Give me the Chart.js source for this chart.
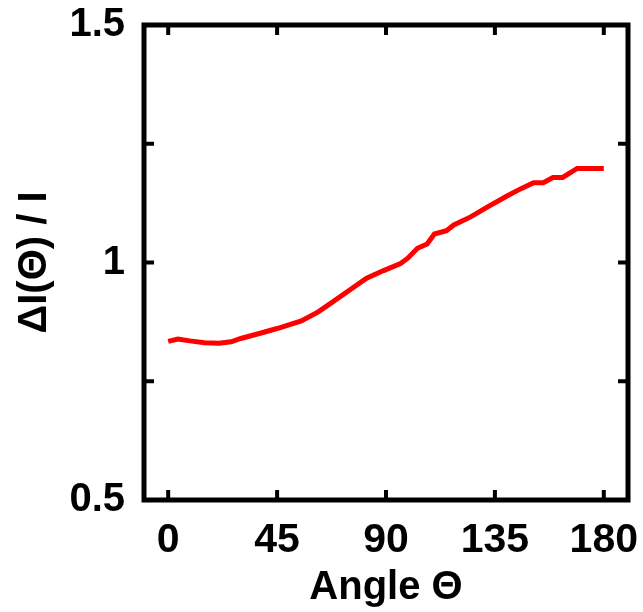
<!DOCTYPE html>
<html>
<head>
<meta charset="utf-8">
<script src="https://cdn.jsdelivr.net/npm/chart.js@4.4.1/dist/chart.umd.min.js"></script>
<style>
  html, body { margin: 0; padding: 0; background: #ffffff; }
  canvas { display: block; }
</style>
</head>
<body>
<canvas id="chart" width="643" height="612"></canvas>
<script>
// Relative intensity change versus scattering angle
const angles = [0, 4, 9, 15, 21, 26, 30, 38, 45, 55, 62, 68, 75, 82, 89, 96, 99, 103, 107, 110, 115, 118, 125, 132, 140, 146, 151, 155, 159, 163, 169, 180];
const ratio  = [0.834, 0.839, 0.835, 0.831, 0.830, 0.833, 0.840, 0.851, 0.861, 0.877, 0.896, 0.917, 0.942, 0.967, 0.983, 0.998, 1.009, 1.030, 1.039, 1.060, 1.067, 1.079, 1.096, 1.117, 1.140, 1.156, 1.168, 1.168, 1.179, 1.179, 1.198, 1.198];

const xTicks = [0, 45, 90, 135, 180];
const yTicks = [0.5, 0.75, 1, 1.25, 1.5];
const yTickLabels = ['0.5', '', '1', '', '1.5'];

const xTitle = 'Angle \u0398';
const yTitle = '\u0394I(\u0398) / I';

const FONT = "'Liberation Sans', Arial, sans-serif";

// Frame around the plot area plus inward ticks on all four sides
const framePlugin = {
  id: 'frame',
  afterDraw(chart) {
    const { ctx, chartArea: a, scales } = chart;
    const tickLen = 10;
    ctx.save();
    ctx.strokeStyle = '#000';
    ctx.lineWidth = 4;
    ctx.beginPath();
    xTicks.forEach(v => {
      const px = scales.x.getPixelForValue(v);
      ctx.moveTo(px, a.bottom); ctx.lineTo(px, a.bottom - tickLen);
      ctx.moveTo(px, a.top);    ctx.lineTo(px, a.top + tickLen);
    });
    yTicks.forEach(v => {
      const py = scales.y.getPixelForValue(v);
      ctx.moveTo(a.left, py);  ctx.lineTo(a.left + tickLen, py);
      ctx.moveTo(a.right, py); ctx.lineTo(a.right - tickLen, py);
    });
    ctx.stroke();
    ctx.lineWidth = 5;
    ctx.strokeRect(a.left, a.top, a.right - a.left, a.bottom - a.top);
    ctx.restore();
  }
};

new Chart(document.getElementById('chart'), {
  type: 'line',
  data: {
    datasets: [{
      data: angles.map((a, i) => ({ x: a, y: ratio[i] })),
      borderColor: '#ff0000',
      borderWidth: 5,
      pointRadius: 0,
      tension: 0,
      fill: false
    }]
  },
  options: {
    responsive: false,
    animation: false,
    layout: { padding: { top: 25, right: 15, left: 0, bottom: 0 } },
    plugins: { legend: { display: false }, tooltip: { enabled: false } },
    scales: {
      x: {
        type: 'linear',
        min: -10,
        max: 190,
        afterFit(scale) {
          scale.height = 112;
          scale.paddingLeft = 0;
          scale.paddingRight = 0;
        },
        afterBuildTicks(scale) { scale.ticks = xTicks.map(v => ({ value: v })); },
        grid: { display: false, drawTicks: false },
        border: { display: false },
        ticks: {
          padding: 16,
          color: '#000',
          font: { family: FONT, size: 41, weight: 'bold' },
          maxRotation: 0,
          callback: v => String(v)
        },
        title: {
          display: true,
          text: xTitle,
          color: '#000',
          font: { family: FONT, size: 40, weight: 'bold' },
          padding: { top: 0, bottom: 0 }
        }
      },
      y: {
        type: 'linear',
        min: 0.5,
        max: 1.5,
        afterFit(scale) {
          scale.width = 144;
          scale.paddingTop = 0;
          scale.paddingBottom = 0;
        },
        afterBuildTicks(scale) { scale.ticks = yTicks.map(v => ({ value: v })); },
        grid: { display: false, drawTicks: false },
        border: { display: false },
        ticks: {
          padding: 19,
          color: '#000',
          font: { family: FONT, size: 40, weight: 'bold' },
          callback: (v, i) => yTickLabels[i]
        },
        title: {
          display: true,
          text: yTitle,
          color: '#000',
          font: { family: FONT, size: 40, weight: 'bold' },
          padding: { top: 11, bottom: 0 }
        }
      }
    }
  },
  plugins: [framePlugin]
});
</script>
</body>
</html>
